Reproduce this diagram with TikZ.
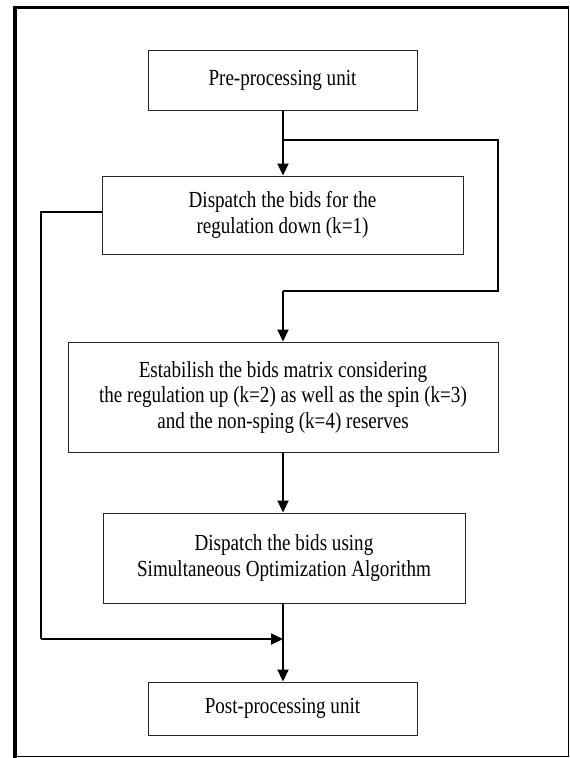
\documentclass[tikz,border=0pt]{standalone}
\usepackage{fontspec}
\setmainfont[FakeStretch=0.83]{Liberation Serif}
\usetikzlibrary{arrows.meta}
\begin{document}
\begin{tikzpicture}[x=1pt,y=-1pt,
  box/.style={draw=black!85,line width=0.9pt,align=center,inner sep=0pt,font=\fontsize{23}{25.5}\selectfont},
  conn/.style={line width=1.8pt,draw=black},
  arr/.style={conn,-{Triangle[length=12pt,width=11pt]}}]
\useasboundingbox (0,0) rectangle (570,758);
% outer frame
\draw[line width=1.6pt] (15,7.5) rectangle (568.5,756.5);
\draw[line width=3.5pt] (15,758) -- (15,7.5) -- (568.5,7.5);
% boxes
\node[box,minimum width=269pt,minimum height=60pt] (b1) at (282.5,80) {Pre-processing unit};
\node[box,minimum width=361pt,minimum height=78pt] (b2) at (282.5,215) {Dispatch the bids for the\\regulation down (k=1)};
\node[box,minimum width=430pt,minimum height=110pt] (b3) at (283,397) {Estabilish the bids matrix considering\\the regulation up (k=2) as well as the spin (k=3)\\and the non-sping (k=4) reserves};
\node[box,minimum width=362pt,minimum height=90pt] (b4) at (284,558) {Dispatch the bids using\\Simultaneous Optimization Algorithm};
\node[box,minimum width=269pt,minimum height=53pt] (b5) at (282.5,708.5) {Post-processing unit};
% junctions
\coordinate (j1) at (283,140);
\coordinate (j2) at (283,639);
\coordinate (r1) at (498,140);
\coordinate (r2) at (498,291);
\coordinate (r3) at (283,291);
\coordinate (l1) at (41,212);
\coordinate (l2) at (41,639);
% connectors
\draw[arr] (b1.south -| j1) -- (b2.north -| j1);
\draw[conn] (j1) -- (r1) -- (r2) -- (r3);
\draw[arr] (r3) -- (b3.north -| r3);
\draw[conn] (b2.west |- l1) -- (l1) -- (l2);
\draw[arr] (l2) -- (j2);
\draw[arr] (b3.south -| j1) -- (b4.north -| j1);
\draw[arr] (b4.south -| j1) -- (b5.north -| j1);
\end{tikzpicture}
\end{document}
